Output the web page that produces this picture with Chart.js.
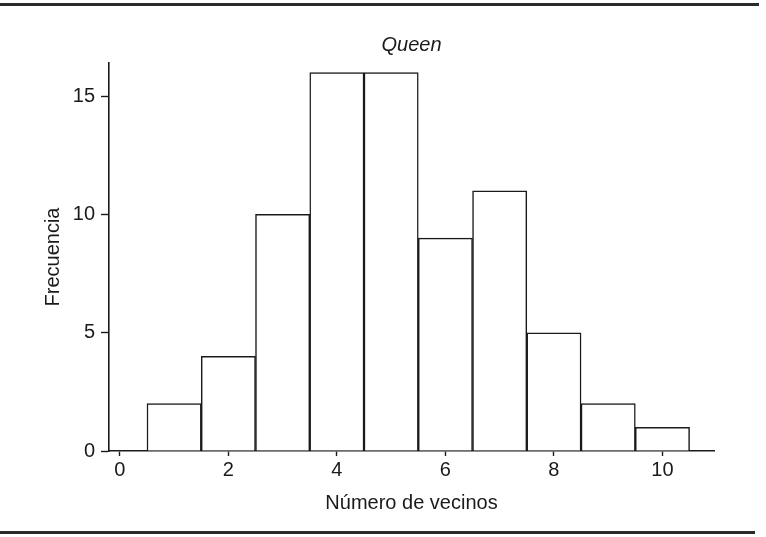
<!DOCTYPE html>
<html>
<head>
<meta charset="utf-8">
<script src="https://cdn.jsdelivr.net/npm/chart.js@4"></script>
<style>
    body { margin: 0; background: #fff; }
    #wrap { position: relative; width: 766px; height: 537px; }
    #chart { position: absolute; left: 0; top: 0; }
    .rule { position: absolute; left: 0; height: 0; border-top: 3px solid #2a2a2a; }
</style>
</head>
<body>
<div id="wrap">
    <div class="rule" style="top:3px; width:759px;"></div>
    <canvas id="chart" width="766" height="537"></canvas>
    <div class="rule" style="top:531px; width:755px;"></div>
</div>
<script>
// number of neighbours (bin centres) and how many units have that many
const vecinos = [1, 2, 3, 4, 5, 6, 7, 8, 9, 10];
const frecuencia = [2, 4, 10, 16, 16, 9, 11, 5, 2, 1];
const xTicks = [0, 2, 4, 6, 8, 10];
const yTicks = [0, 5, 10, 15];

const fontFamily = '"Liberation Sans", Arial, sans-serif';
const ink = '#1a1a1a';

function makeData() {
    return vecinos.map((v, i) => ({ x: v, y: frecuencia[i] }));
}

function fixedTicks(list) {
    return function(scale) {
        scale.ticks = list.map(v => ({ value: v }));
    };
}

window.addEventListener('DOMContentLoaded', function() {
    const ctx = document.getElementById('chart').getContext('2d');

    new Chart(ctx, {
        type: 'bar',
        data: {
            datasets: [{
                label: 'Queen',
                data: makeData(),
                backgroundColor: '#ffffff',
                borderColor: ink,
                borderWidth: 1.5,
                barPercentage: 1,
                categoryPercentage: 1,
                grouped: false
            }]
        },
        options: {
            responsive: false,
            animation: false,
            layout: { padding: { left: 0, right: 52, top: 0, bottom: 0 } },
            plugins: {
                legend: { display: false },
                tooltip: { enabled: false },
                title: {
                    display: true,
                    fullSize: false,   // centre over the plot, not the canvas
                    text: 'Queen',
                    color: ink,
                    font: { family: fontFamily, size: 20, style: 'italic', weight: 'normal' },
                    padding: { top: 33, bottom: 6 }
                }
            },
            scales: {
                x: {
                    type: 'linear',
                    offset: false,
                    min: -0.2,
                    max: 10.95,
                    afterBuildTicks: fixedTicks(xTicks),
                    afterFit: function(scale) { scale.height = 86; },
                    grid: {
                        display: true,
                        offset: false,
                        drawOnChartArea: false,
                        drawTicks: true,
                        tickLength: 5,
                        tickColor: ink,
                        tickWidth: 1.4
                    },
                    border: { display: true, color: ink, width: 1.6 },
                    ticks: {
                        color: ink,
                        padding: 2,
                        maxRotation: 0,
                        font: { family: fontFamily, size: 20 }
                    },
                    title: {
                        display: true,
                        text: 'Número de vecinos',
                        color: ink,
                        font: { family: fontFamily, size: 20 },
                        padding: { top: 0, bottom: 22 }
                    }
                },
                y: {
                    min: 0,
                    max: 16.4,
                    afterBuildTicks: fixedTicks(yTicks),
                    afterFit: function(scale) { scale.width = 109; },
                    grid: {
                        display: true,
                        drawOnChartArea: false,
                        drawTicks: true,
                        tickLength: 8,
                        tickColor: ink,
                        tickWidth: 1.4
                    },
                    border: { display: true, color: ink, width: 1.6 },
                    ticks: {
                        color: ink,
                        padding: 6,
                        font: { family: fontFamily, size: 20 }
                    },
                    title: {
                        display: true,
                        text: 'Frecuencia',
                        color: ink,
                        font: { family: fontFamily, size: 20 },
                        padding: { top: 41, bottom: 0 }
                    }
                }
            }
        }
    });
});
</script>
</body>
</html>
